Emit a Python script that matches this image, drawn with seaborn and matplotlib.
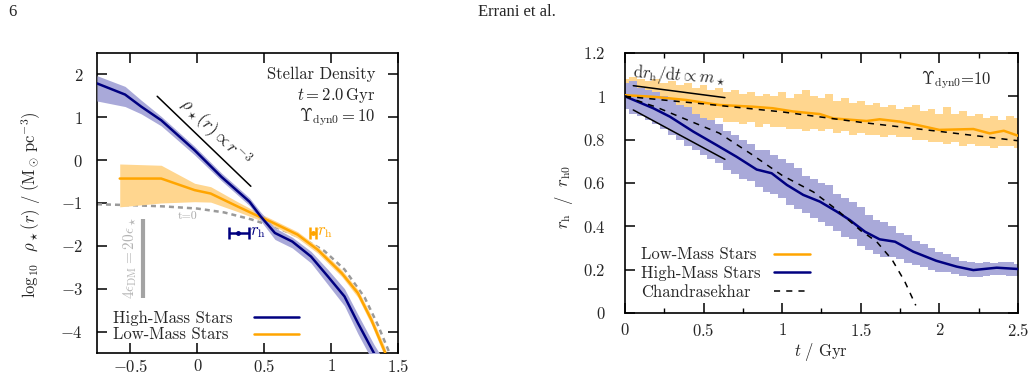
import numpy as np
import pandas as pd
import matplotlib
matplotlib.use('Agg')
import matplotlib.pyplot as plt
import seaborn as sns
from matplotlib.ticker import FixedLocator, FuncFormatter, MultipleLocator

# ---------------- left panel: density profiles at t = 2 Gyr ----------------
high_logr = [-0.75, -0.54, -0.42, -0.27, -0.02, 0.18, 0.39, 0.47, 0.58, 0.71, 0.85, 0.975, 1.10, 1.20, 1.32, 1.40]
high_logrho = [1.79, 1.53, 1.25, 0.93, 0.23, -0.39, -0.97, -1.30, -1.70, -1.90, -2.25, -2.71, -3.18, -3.80, -4.50, -4.95]
high_up = [1.97, 1.72, 1.40, 1.02, 0.32, -0.30, -0.88, -1.20, -1.58, -1.80, -2.13, -2.55, -3.00, -3.60, -4.30, -4.70]
high_lo = [1.38, 1.25, 1.08, 0.80, 0.12, -0.48, -1.06, -1.40, -1.85, -2.05, -2.40, -2.90, -3.40, -4.05, -4.75, -5.20]

low_logr = [-0.58, -0.27, -0.02, 0.10, 0.30, 0.45, 0.545, 0.75, 0.90, 1.08, 1.20, 1.30, 1.40, 1.45]
low_logrho = [-0.43, -0.43, -0.70, -0.78, -1.08, -1.30, -1.43, -1.74, -2.09, -2.64, -3.10, -3.72, -4.46, -4.90]
low_up = [-0.09, -0.12, -0.54, -0.62, -0.97, -1.22, -1.36, -1.67, -2.02, -2.56, -3.02, -3.62, -4.35, -4.80]
low_lo = [-1.09, -1.00, -0.97, -0.98, -1.20, -1.38, -1.50, -1.82, -2.17, -2.72, -3.20, -3.83, -4.58, -5.00]

t0_logr = [-0.75, -0.5, -0.25, 0.0, 0.2, 0.4, 0.6, 0.8, 0.95, 1.1, 1.25, 1.35, 1.45]
t0_logrho = [-1.03, -1.05, -1.08, -1.13, -1.22, -1.38, -1.58, -1.85, -2.12, -2.55, -3.20, -3.85, -4.60]

# half-light radii markers
rh_y = -1.69
rh_high, rh_high_err = 0.305, [[0.068], [0.084]]
rh_low, rh_low_err = 0.863, [[0.023], [0.023]]

# softening bar and r^-3 guide
eps_logr = [-0.407, -0.407]
eps_logrho = [-1.38, -3.22]
slope_logr = [-0.30, 0.40]
slope_logrho = [1.49, -0.61]

# ---------------- right panel: r_h(t) / r_h0 ----------------
t_low = [0.0, 0.18, 0.39, 0.60, 0.815, 0.94, 1.07, 1.24, 1.325, 1.537, 1.62, 1.75, 1.856, 2.0, 2.216, 2.32, 2.41, 2.5]
rh_low_t = [1.005, 0.998, 0.983, 0.96, 0.952, 0.945, 0.93, 0.918, 0.898, 0.886, 0.894, 0.883, 0.868, 0.845, 0.849, 0.829, 0.841, 0.818]

t_high = [0.0, 0.18, 0.286, 0.435, 0.583, 0.71, 0.838, 0.933, 1.03, 1.134, 1.24, 1.347, 1.43, 1.527, 1.62,
          1.718, 1.834, 1.98, 2.11, 2.216, 2.365, 2.5]
rh_high_t = [1.0, 0.945, 0.906, 0.837, 0.775, 0.721, 0.662, 0.645, 0.591, 0.545, 0.514, 0.468, 0.429, 0.375, 0.340,
             0.329, 0.283, 0.241, 0.214, 0.198, 0.209, 0.203]

t_band = np.linspace(0, 2.5, 51)
high_band_up = [1.06, 1.07, 1.04, 1.03, 1.02, 1.00, 0.99, 0.96, 0.95, 0.92, 0.90, 0.89, 0.87, 0.84, 0.82, 0.80, 0.78,
                0.75, 0.75, 0.73, 0.71, 0.69, 0.67, 0.63, 0.62, 0.60, 0.59, 0.55, 0.53, 0.51, 0.49, 0.45, 0.43, 0.42,
                0.40, 0.37, 0.36, 0.33, 0.32, 0.30, 0.28, 0.27, 0.26, 0.24, 0.235, 0.23, 0.235, 0.23, 0.235, 0.235, 0.225]
high_band_lo = [0.94, 0.92, 0.91, 0.89, 0.87, 0.85, 0.82, 0.80, 0.77, 0.75, 0.73, 0.71, 0.69, 0.66, 0.64, 0.62, 0.61,
                0.58, 0.56, 0.55, 0.53, 0.50, 0.48, 0.46, 0.44, 0.42, 0.40, 0.38, 0.35, 0.34, 0.31, 0.29, 0.27, 0.26,
                0.26, 0.25, 0.23, 0.22, 0.21, 0.20, 0.19, 0.19, 0.18, 0.17, 0.165, 0.165, 0.17, 0.175, 0.175, 0.17, 0.17]
low_band_up = [1.08, 1.09, 1.08, 1.07, 1.08, 1.06, 1.07, 1.05, 1.06, 1.04, 1.05, 1.03, 1.04, 1.02, 1.03, 1.01, 1.02,
               1.00, 1.01, 1.00, 1.02, 0.99, 1.01, 1.03, 1.00, 0.99, 1.01, 0.98, 0.99, 0.97, 0.98, 0.96, 0.97, 0.95,
               0.96, 0.94, 0.95, 0.96, 0.93, 0.94, 0.92, 0.95, 0.92, 0.93, 0.91, 0.92, 0.90, 0.91, 0.89, 0.91, 0.90]
low_band_lo = [0.98, 0.97, 0.96, 0.95, 0.94, 0.93, 0.93, 0.91, 0.91, 0.90, 0.90, 0.89, 0.90, 0.88, 0.88, 0.87, 0.88,
               0.86, 0.87, 0.86, 0.86, 0.85, 0.85, 0.84, 0.85, 0.84, 0.85, 0.83, 0.84, 0.82, 0.83, 0.82, 0.82, 0.81,
               0.82, 0.81, 0.81, 0.80, 0.80, 0.79, 0.79, 0.78, 0.79, 0.77, 0.78, 0.77, 0.77, 0.76, 0.77, 0.77, 0.76]

t_chandra_low = [0.0, 0.5, 1.0, 1.5, 2.0, 2.5]
rh_chandra_low = [1.0, 0.965, 0.928, 0.88, 0.838, 0.795]
t_chandra_high = [0.0, 0.2, 0.4, 0.6, 0.8, 1.0, 1.2, 1.35, 1.5, 1.6, 1.7, 1.78, 1.85]
rh_chandra_high = [1.0, 0.95, 0.89, 0.83, 0.735, 0.635, 0.558, 0.475, 0.38, 0.33, 0.245, 0.145, 0.035]

t_guide = [0.053, 0.636]
rh_guide_up = [1.049, 0.994]
rh_guide_lo = [0.937, 0.709]

NAVY = '#000080'
NAVY_BAND = '#a9a9d9'
ORANGE = '#ffa500'
ORANGE_BAND = '#ffd68f'
GREY = '#9a9a9a'
FS = 12

sns.set_style('ticks')
plt.rcParams['font.family'] = ['cmr10', 'DejaVu Serif']
plt.rcParams['mathtext.fontset'] = 'cm'
plt.rcParams['axes.unicode_minus'] = True
plt.rcParams['font.size'] = FS
plt.rcParams['axes.linewidth'] = 1.2

fmt = FuncFormatter(lambda v, p: '$%g$' % v)


def style_axis(ax, xpad, ypad):
    ax.tick_params(which='both', direction='in', top=True, right=True, labelsize=FS, color='black')
    ax.tick_params(axis='x', pad=xpad)
    ax.tick_params(axis='y', pad=ypad)
    ax.tick_params(which='major', length=7, width=1.1)
    ax.tick_params(which='minor', length=3.5, width=1.0)
    for s in ax.spines.values():
        s.set_color('black')
        s.set_linewidth(1.2)
    ax.xaxis.set_major_formatter(fmt)
    ax.yaxis.set_major_formatter(fmt)


def align_legend(fig, leg, pad_em):
    # left-align legend labels while keeping the handles in one column
    fig.canvas.draw()
    r = fig.canvas.get_renderer()
    widths = [t.get_window_extent(r).width for t in leg.get_texts()]
    wmax = max(widths)
    col = leg._legend_handle_box.get_children()[0]
    for row, w in zip(col.get_children(), widths):
        row.sep = pad_em * FS + (wmax - w) * 72.0 / fig.dpi
    col.align = 'left'


fig = plt.figure(figsize=(10.34, 3.76), dpi=100)
fig.text(0.008, 0.969, '6', family='Liberation Serif', fontsize=12, va='center', ha='left')
fig.text(0.5, 0.969, 'Errani et al.', family='Liberation Serif', fontsize=12, va='center', ha='center')

# ---------------- left ----------------
ax1 = fig.add_axes([0.0938, 0.0612, 0.2911, 0.7979])
left_high = pd.DataFrame({'logr': high_logr, 'logrho': high_logrho})
left_low = pd.DataFrame({'logr': low_logr, 'logrho': low_logrho})

sns.lineplot(x=t0_logr, y=t0_logrho, ax=ax1, color=GREY, lw=1.8, linestyle=(0, (2, 1.6)), zorder=1)
ax1.fill_between(low_logr, low_lo, low_up, color=ORANGE_BAND, lw=0, zorder=2)
ax1.fill_between(high_logr, high_lo, high_up, color=NAVY_BAND, lw=0, zorder=3)
sns.lineplot(data=left_low, x='logr', y='logrho', ax=ax1, color=ORANGE, lw=1.8, zorder=4,
             label='Low-Mass Stars', errorbar=None)
sns.lineplot(data=left_high, x='logr', y='logrho', ax=ax1, color=NAVY, lw=1.8, zorder=5,
             label='High-Mass Stars', errorbar=None)
ax1.plot(slope_logr, slope_logrho, color='black', lw=1.1, zorder=6)
ax1.plot(eps_logr, eps_logrho, color='#a3a3a3', lw=3, solid_capstyle='butt', zorder=6)

ax1.errorbar([rh_high], [rh_y], xerr=rh_high_err, fmt='o', ms=2.5, color=NAVY, lw=1.8, capsize=4,
             capthick=1.8, zorder=7)
ax1.errorbar([rh_low], [rh_y], xerr=rh_low_err, fmt='o', ms=2.5, color=ORANGE, lw=1.8, capsize=4,
             capthick=1.8, zorder=7)
ax1.text(rh_high + 0.09, rh_y, r'$r_\mathrm{h}$', color=NAVY, fontsize=FS, va='center', ha='left')
ax1.text(rh_low + 0.028, rh_y, r'$r_\mathrm{h}$', color=ORANGE, fontsize=FS, va='center', ha='left')

ax1.text(-0.07, -1.32, 't=0', color='#aaaaaa', fontsize=8.5, ha='center', va='center')
ax1.text(-0.50, -2.28, r'$4\epsilon_\mathrm{DM}=20\epsilon_\star$', color='#b5b5b5', fontsize=11,
         rotation=90, ha='center', va='center')
ax1.text(0.134, 0.644, r'$\rho_\star(r)\propto r^{-3}$', rotation=-44, fontsize=12.5,
         ha='center', va='center', rotation_mode='anchor')

ax1.text(0.926, 0.929, 'Stellar Density', transform=ax1.transAxes, ha='right', va='center')
ax1.text(0.926, 0.858, r'$t = 2.0\,\mathrm{Gyr}$', transform=ax1.transAxes, ha='right', va='center', fontsize=FS)
ax1.text(0.926, 0.788, r'$\Upsilon_\mathrm{dyn0} = 10$', transform=ax1.transAxes, ha='right', va='center',
         fontsize=FS)

ax1.set_xlim(-0.75, 1.5)
ax1.set_ylim(-4.5, 2.5)
ax1.xaxis.set_major_locator(FixedLocator([-0.5, 0, 0.5, 1, 1.5]))
ax1.yaxis.set_major_locator(FixedLocator([-4, -3, -2, -1, 0, 1, 2]))
ax1.set_xlabel('')
ax1.set_ylabel(r'$\log_{10}\ \ \rho_\star(r)\ /\ (\mathrm{M}_\odot\,\mathrm{pc}^{-3})$', fontsize=FS)
ax1.yaxis.set_label_coords(-0.179, 0.493)
style_axis(ax1, 3.5, 10)

h, l = ax1.get_legend_handles_labels()
order = [l.index('High-Mass Stars'), l.index('Low-Mass Stars')]
leg1 = ax1.legend([h[i] for i in order], [l[i] for i in order], loc='lower left', bbox_to_anchor=(0.053, 0.035),
                  frameon=False, markerfirst=False, handlelength=2.7, handletextpad=1.3, labelspacing=0.08,
                  borderaxespad=0, borderpad=0, fontsize=FS)

# ---------------- right ----------------
ax2 = fig.add_axes([0.6044, 0.1676, 0.3801, 0.6915])
right_low = pd.DataFrame({'t': t_low, 'rh': rh_low_t})
right_high = pd.DataFrame({'t': t_high, 'rh': rh_high_t})

ax2.fill_between(t_band, low_band_lo, low_band_up, step='mid', color=ORANGE_BAND, lw=0, zorder=1)
ax2.fill_between(t_band, high_band_lo, high_band_up, step='mid', color=NAVY_BAND, lw=0, zorder=2)
sns.lineplot(data=right_low, x='t', y='rh', ax=ax2, color=ORANGE, lw=1.8, zorder=4,
             label='Low-Mass Stars', errorbar=None)
sns.lineplot(data=right_high, x='t', y='rh', ax=ax2, color=NAVY, lw=1.8, zorder=4,
             label='High-Mass Stars', errorbar=None)
sns.lineplot(x=t_chandra_low, y=rh_chandra_low, ax=ax2, color='black', lw=1.1, linestyle=(0, (4, 4)),
             zorder=5, label='Chandrasekhar', errorbar=None)
sns.lineplot(x=t_chandra_high, y=rh_chandra_high, ax=ax2, color='black', lw=1.1, linestyle=(0, (4, 4)),
             zorder=5, errorbar=None)
ax2.plot(t_guide, rh_guide_up, color='black', lw=1.1, zorder=6)
ax2.plot(t_guide, rh_guide_lo, color='black', lw=1.1, zorder=6)
ax2.text(0.343, 1.094, r'$\mathrm{d}r_\mathrm{h}/\mathrm{d}t \propto m_\star$', rotation=-4, fontsize=FS,
         ha='center', va='center', rotation_mode='anchor')
ax2.text(0.933, 0.899, r'$\Upsilon_\mathrm{dyn0}$=10', transform=ax2.transAxes, ha='right', va='center',
         fontsize=FS)

ax2.set_xlim(0, 2.5)
ax2.set_ylim(0, 1.2)
ax2.xaxis.set_major_locator(MultipleLocator(0.5))
ax2.xaxis.set_minor_locator(MultipleLocator(0.25))
ax2.yaxis.set_major_locator(MultipleLocator(0.2))
ax2.set_xlabel(r'$t\ /\ \mathrm{Gyr}$', fontsize=FS)
ax2.set_ylabel(r'$r_\mathrm{h}\ \ /\ \ r_\mathrm{h0}$', fontsize=FS)
ax2.xaxis.set_label_coords(0.499, -0.108)
ax2.yaxis.set_label_coords(-0.127, 0.447)
style_axis(ax2, 6.5, 14)

h, l = ax2.get_legend_handles_labels()
leg2 = ax2.legend(h, l, loc='lower left', bbox_to_anchor=(0.04, 0.051), frameon=False, markerfirst=False,
                  handlelength=2.2, handletextpad=0.8, labelspacing=0.2, borderaxespad=0, borderpad=0,
                  fontsize=FS)

align_legend(fig, leg1, 1.3)
align_legend(fig, leg2, 0.8)

fig.savefig('out.png', dpi=100)
